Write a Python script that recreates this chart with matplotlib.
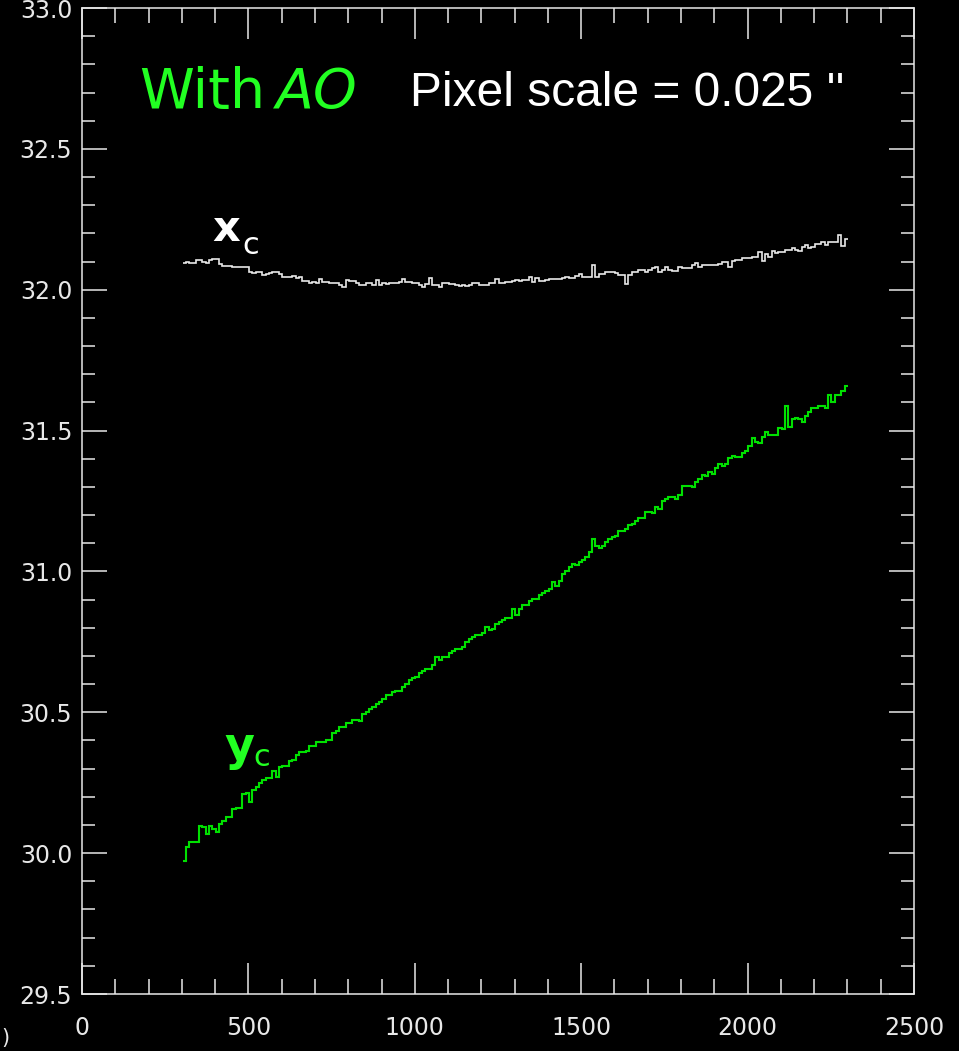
import numpy as np
import matplotlib
matplotlib.use('Agg')
from matplotlib import pyplot as plt
from matplotlib.ticker import MultipleLocator, FormatStrFormatter

# step values, one per 10-unit bin starting at x = 302
bin_start = 302
bin_width = 10

xc_vals = [
    32.094, 32.100, 32.096, 32.096, 32.105, 32.105, 32.098, 32.096, 32.105, 32.109,  # 300
    32.109, 32.090, 32.084, 32.084, 32.084, 32.079, 32.082, 32.082, 32.079, 32.079,  # 400
    32.064, 32.058, 32.064, 32.064, 32.052, 32.056, 32.060, 32.064, 32.064, 32.056,  # 500
    32.046, 32.044, 32.044, 32.048, 32.040, 32.046, 32.032, 32.032, 32.023, 32.029,  # 600
    32.023, 32.037, 32.029, 32.029, 32.023, 32.025, 32.025, 32.017, 32.011, 32.035,  # 700
    32.032, 32.032, 32.023, 32.017, 32.017, 32.023, 32.023, 32.017, 32.035, 32.017,  # 800
    32.025, 32.020, 32.023, 32.023, 32.023, 32.029, 32.037, 32.029, 32.026, 32.025,  # 900
    32.025, 32.017, 32.011, 32.019, 32.040, 32.017, 32.017, 32.011, 32.023, 32.023,  # 1000
    32.019, 32.019, 32.015, 32.013, 32.016, 32.013, 32.016, 32.023, 32.023, 32.017,  # 1100
    32.017, 32.017, 32.023, 32.023, 32.037, 32.023, 32.023, 32.029, 32.029, 32.032,  # 1200
    32.033, 32.032, 32.034, 32.033, 32.044, 32.029, 32.040, 32.032, 32.032, 32.036,  # 1300
    32.037, 32.037, 32.037, 32.037, 32.040, 32.046, 32.040, 32.040, 32.049, 32.056,  # 1400
    32.046, 32.046, 32.046, 32.089, 32.046, 32.056, 32.056, 32.064, 32.064, 32.064,  # 1500
    32.058, 32.052, 32.052, 32.020, 32.052, 32.064, 32.064, 32.070, 32.070, 32.062,  # 1600
    32.070, 32.076, 32.080, 32.062, 32.070, 32.080, 32.070, 32.066, 32.067, 32.082,  # 1700
    32.078, 32.078, 32.076, 32.086, 32.094, 32.082, 32.086, 32.086, 32.086, 32.088,  # 1800
    32.088, 32.091, 32.098, 32.098, 32.082, 32.102, 32.106, 32.106, 32.114, 32.114,  # 1900
    32.112, 32.115, 32.117, 32.133, 32.102, 32.126, 32.117, 32.137, 32.130, 32.135,  # 2000
    32.135, 32.141, 32.141, 32.149, 32.141, 32.137, 32.153, 32.159, 32.149, 32.153,  # 2100
    32.161, 32.161, 32.169, 32.159, 32.168, 32.168, 32.170, 32.193, 32.156, 32.180,  # 2200
]

yc_vals = [
    29.973, 30.023, 30.041, 30.041, 30.041, 30.096, 30.092, 30.068, 30.096, 30.087,  # 300
    30.076, 30.103, 30.115, 30.129, 30.129, 30.155, 30.162, 30.162, 30.210, 30.212,  # 400
    30.183, 30.224, 30.236, 30.250, 30.260, 30.265, 30.265, 30.292, 30.271, 30.307,  # 500
    30.309, 30.309, 30.328, 30.330, 30.348, 30.360, 30.360, 30.364, 30.380, 30.380,  # 600
    30.396, 30.396, 30.396, 30.402, 30.402, 30.425, 30.435, 30.447, 30.447, 30.463,  # 700
    30.463, 30.472, 30.472, 30.470, 30.494, 30.502, 30.510, 30.520, 30.530, 30.537,  # 800
    30.546, 30.561, 30.561, 30.573, 30.575, 30.575, 30.590, 30.600, 30.615, 30.623,  # 900
    30.626, 30.640, 30.648, 30.652, 30.652, 30.668, 30.695, 30.685, 30.695, 30.695,  # 1000
    30.711, 30.718, 30.726, 30.726, 30.730, 30.749, 30.759, 30.768, 30.773, 30.773,  # 1100
    30.783, 30.801, 30.792, 30.797, 30.813, 30.820, 30.827, 30.836, 30.836, 30.865,  # 1200
    30.845, 30.865, 30.881, 30.881, 30.896, 30.901, 30.901, 30.915, 30.922, 30.930,  # 1300
    30.936, 30.964, 30.948, 30.967, 30.990, 31.003, 31.014, 31.026, 31.023, 31.032,  # 1400
    31.040, 31.052, 31.070, 31.114, 31.090, 31.082, 31.090, 31.104, 31.114, 31.121,  # 1500
    31.126, 31.143, 31.143, 31.150, 31.165, 31.170, 31.180, 31.188, 31.188, 31.212,  # 1600
    31.212, 31.206, 31.230, 31.222, 31.250, 31.257, 31.265, 31.265, 31.257, 31.271,  # 1700
    31.303, 31.303, 31.304, 31.300, 31.319, 31.328, 31.342, 31.337, 31.352, 31.347,  # 1800
    31.366, 31.381, 31.375, 31.383, 31.401, 31.411, 31.407, 31.407, 31.421, 31.427,  # 1900
    31.446, 31.475, 31.460, 31.455, 31.478, 31.494, 31.484, 31.484, 31.484, 31.508,  # 2000
    31.505, 31.587, 31.514, 31.540, 31.543, 31.540, 31.529, 31.553, 31.567, 31.581,  # 2100
    31.581, 31.587, 31.587, 31.581, 31.626, 31.603, 31.626, 31.626, 31.640, 31.659,  # 2200
]

x_ticks = [0, 500, 1000, 1500, 2000, 2500]
y_ticks = [29.5, 30.0, 30.5, 31.0, 31.5, 32.0, 32.5, 33.0]

fg = '#e8e8e8'
green = '#00e000'
txt_green = '#22ff22'

fig = plt.figure(figsize=(9.59, 10.51), dpi=100, facecolor='black')
ax = fig.add_axes([82 / 959, 1 - 994 / 1051, 832 / 959, 986 / 1051])
ax.set_facecolor('black')

edges = bin_start + bin_width * np.arange(len(xc_vals) + 1)
ax.stairs(xc_vals, edges, color=fg, linewidth=1.2, baseline=None)
ax.stairs(yc_vals, edges, color=green, linewidth=1.5, baseline=None)

ax.set_xlim(0, 2500)
ax.set_ylim(29.5, 33.0)
ax.set_xticks(x_ticks)
ax.set_yticks(y_ticks)
ax.xaxis.set_minor_locator(MultipleLocator(100))
ax.yaxis.set_minor_locator(MultipleLocator(0.1))
ax.yaxis.set_major_formatter(FormatStrFormatter('%.1f'))

for sp in ax.spines.values():
    sp.set_color(fg)
    sp.set_linewidth(1.1)
ax.tick_params(which='both', direction='in', top=True, right=True, color=fg, width=1.1)
ax.tick_params(axis='x', which='major', length=22, pad=16)
ax.tick_params(axis='x', which='minor', length=11)
ax.tick_params(axis='y', which='major', length=18, pad=7)
ax.tick_params(axis='y', which='minor', length=9.5)
for lab in ax.get_xticklabels() + ax.get_yticklabels():
    lab.set_family('DejaVu Sans')
    lab.set_fontsize(17)
    lab.set_color(fg)


# annotations, placed in figure pixels
def px(x, y):
    return x / 959, 1 - y / 1051


fig.text(*px(139, 108), 'With', color=txt_green, fontsize=40, va='baseline', family='DejaVu Sans')
fig.text(*px(276, 108), 'AO', color=txt_green, fontsize=40, va='baseline', style='italic', family='DejaVu Sans')
fig.text(*px(410, 106), "Pixel scale = 0.025 ''", color='white', fontsize=34.5, va='baseline',
         family='Liberation Sans')
fig.text(*px(212, 241), 'x', color='white', fontsize=31, va='baseline', family='DejaVu Sans',
         fontweight='bold')
fig.text(*px(242, 254), 'c', color='white', fontsize=22, va='baseline', family='DejaVu Sans')
fig.text(*px(224, 760), 'y', color=txt_green, fontsize=33, va='baseline', family='DejaVu Sans',
         fontweight='bold')
fig.text(*px(253, 766), 'c', color=txt_green, fontsize=22, va='baseline', family='DejaVu Sans')
fig.text(*px(1, 1044), ')', color=fg, fontsize=15, va='baseline', family='DejaVu Sans')

fig.savefig('out.png', dpi=100, facecolor='black')
